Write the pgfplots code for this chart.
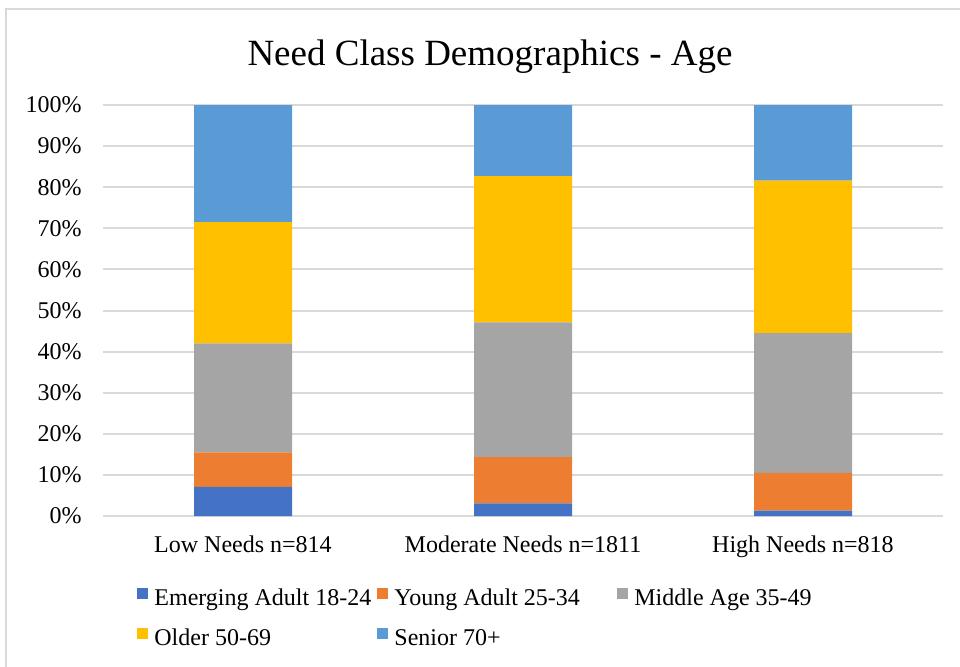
\documentclass[border=0pt]{standalone}
\usepackage{pgfplots}
\pgfplotsset{compat=1.18}
\usepackage{pgfplotstable}
\usepackage{fontspec}
\setmainfont{Liberation Serif}

\definecolor{cEmerg}{HTML}{4472C4}
\definecolor{cYoung}{HTML}{ED7D31}
\definecolor{cMiddle}{HTML}{A5A5A5}
\definecolor{cOlder}{HTML}{FFC000}
\definecolor{cSenior}{HTML}{5B9BD5}
\definecolor{gridc}{HTML}{D9D9D9}

% Share of each age group within each need class (percent)
\pgfplotstableread{
x emerg young middle older senior
0 7.1 8.4 26.5 29.5 28.5
1 3.1 11.2 32.8 35.6 17.3
2 1.3 9.2 34.0 37.1 18.4
}\agedata

\begin{document}
\begin{tikzpicture}
\path[use as bounding box] (0,0) rectangle (480pt,-333pt);
\clip (0,0) rectangle (480pt,-333pt);
\draw[gridc, line width=1pt] (3pt,-4.5pt) rectangle (490pt,-345pt);
\node[font=\fontsize{18.5}{22}\selectfont, inner sep=0pt] at (245pt,-28.5pt) {Need Class Demographics - Age};

\begin{axis}[
  at={(51.5pt,-258pt)}, anchor=south west,
  scale only axis, width=420pt, height=205.5pt,
  ybar stacked, bar width=49pt,
  xmin=-0.5, xmax=2.5, ymin=0, ymax=100,
  xtick={0,1,2},
  xticklabels={Low Needs n=814, Moderate Needs n=1811, High Needs n=818},
  ytick={0,10,...,100},
  /pgf/number format/assume math mode=true,
  yticklabel={\pgfmathprintnumber{\tick}\%},
  tick label style={font=\fontsize{12}{14}\selectfont},
  yticklabel style={inner sep=0pt, xshift=-10.5pt},
  xticklabel style={inner sep=0pt, yshift=-9.5pt},
  major tick length=0pt,
  axis line style={draw=none},
  ymajorgrids, grid style={gridc, line width=1pt},
  legend columns=3,
  legend image code/.code={\fill[#1] (0pt,0.2pt) rectangle (5.5pt,5.7pt);},
  legend style={at={(0.0405,-0.175)}, anchor=north west, draw=none, fill=none,
    inner sep=0pt, font=\fontsize{12}{14}\selectfont,
    nodes={inner sep=0pt, text height=8.5pt, text depth=2.5pt},
    row sep=8.5pt,
    /tikz/every odd column/.append style={column sep=3pt}},
]
\addplot[fill=cEmerg, draw=none] table[x=x, y=emerg] {\agedata};
\addplot[fill=cYoung, draw=none] table[x=x, y=young] {\agedata};
\addplot[fill=cMiddle, draw=none] table[x=x, y=middle] {\agedata};
\addplot[fill=cOlder, draw=none] table[x=x, y=older] {\agedata};
\addplot[fill=cSenior, draw=none] table[x=x, y=senior] {\agedata};
\addlegendentry{\makebox[111.5pt][l]{Emerging Adult 18-24}}
\addlegendentry{\makebox[111.5pt][l]{Young Adult 25-34}}
\addlegendentry{\makebox[111.5pt][l]{Middle Age 35-49}}
\addlegendentry{\makebox[111.5pt][l]{Older 50-69}}
\addlegendentry{\makebox[111.5pt][l]{Senior 70+}}
\end{axis}
\end{tikzpicture}
\end{document}
